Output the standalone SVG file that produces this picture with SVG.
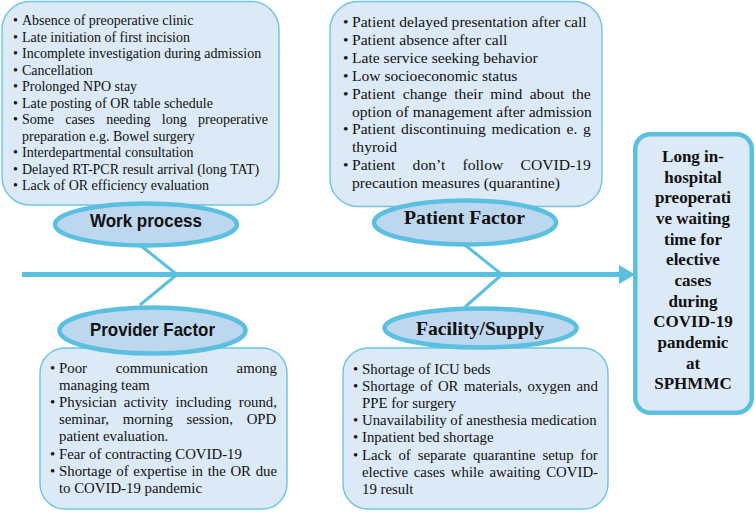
<svg xmlns="http://www.w3.org/2000/svg" width="755" height="512" viewBox="0 0 755 512">
<style>
.box{fill:#dce9f6;stroke:#6cc4e4;stroke-width:1.4}
.ell{fill:#bdd7ee;stroke:#5bbfe0;stroke-width:4.5}
.t{font-family:"Liberation Serif","Times New Roman",serif;fill:#111}
.s14{font-size:14px}
.s156{font-size:15.6px}
.s148{font-size:14.8px}
.hs{font-family:"Liberation Sans",Arial,sans-serif;font-weight:bold;font-size:18.5px;fill:#111;text-anchor:middle}
.hr{font-family:"Liberation Serif","Times New Roman",serif;font-weight:bold;font-size:19.7px;fill:#111;text-anchor:middle}
.res{font-family:"Liberation Serif","Times New Roman",serif;font-weight:bold;font-size:17px;fill:#111;text-anchor:middle}
.bone{stroke:#5bbfe0;stroke-width:3;fill:none}
.spine{stroke:#5bbfe0;stroke-width:5;fill:none}
</style>

<g id="connectors">
  <line class="spine" x1="22" y1="274.5" x2="622" y2="274.5"/>
  <polygon points="619,265 635,274.5 619,284" fill="#5bbfe0"/>
  <polyline class="bone" points="140,245 177,274.5 140,305"/>
  <polyline class="bone" points="465,245 502,274.5 465,307"/>
</g>

<g id="work-process">
  <rect class="box" x="2" y="1.5" width="277" height="203.5" rx="28"/>
  <g class="t s14">
    <text x="13" y="25">•</text><text x="22" y="25">Absence of preoperative clinic</text>
    <text x="13" y="41.5">•</text><text x="22" y="41.5">Late initiation of first incision</text>
    <text x="13" y="58">•</text><text x="22" y="58">Incomplete investigation during admission</text>
    <text x="13" y="74.5">•</text><text x="22" y="74.5">Cancellation</text>
    <text x="13" y="91">•</text><text x="22" y="91">Prolonged NPO stay</text>
    <text x="13" y="107.5">•</text><text x="22" y="107.5">Late posting of OR table schedule</text>
    <text x="13" y="124">•</text><text x="22" y="124" word-spacing="7.85">Some cases needing long preoperative</text>
    <text x="22" y="140.5">preparation e.g. Bowel surgery</text>
    <text x="13" y="157">•</text><text x="22" y="157">Interdepartmental consultation</text>
    <text x="13" y="173.5">•</text><text x="22" y="173.5">Delayed RT-PCR result arrival (long TAT)</text>
    <text x="13" y="190">•</text><text x="22" y="190">Lack of OR efficiency evaluation</text>
  </g>
  <ellipse class="ell" cx="146" cy="224.5" rx="91" ry="21"/>
  <text class="hs" x="146" y="227" textLength="112" lengthAdjust="spacingAndGlyphs">Work process</text>
</g>

<g id="patient-factor">
  <rect class="box" x="330" y="1.5" width="272" height="205" rx="28"/>
  <g class="t s156">
    <text x="343" y="27">•</text><text x="352" y="27">Patient delayed presentation after call</text>
    <text x="343" y="44.9">•</text><text x="352" y="44.9">Patient absence after call</text>
    <text x="343" y="62.8">•</text><text x="352" y="62.8">Late service seeking behavior</text>
    <text x="343" y="80.7">•</text><text x="352" y="80.7">Low socioeconomic status</text>
    <text x="343" y="98.6">•</text><text x="352" y="98.6" word-spacing="3.5">Patient change their mind about the</text>
    <text x="352" y="116.5">option of management after admission</text>
    <text x="343" y="134.4">•</text><text x="352" y="134.4" word-spacing="1.8">Patient discontinuing medication e. g</text>
    <text x="352" y="152.3">thyroid</text>
    <text x="343" y="170.2">•</text><text x="352" y="170.2" word-spacing="13.4">Patient don’t follow COVID-19</text>
    <text x="352" y="188.1">precaution measures (quarantine)</text>
  </g>
  <ellipse class="ell" cx="465" cy="222.5" rx="91" ry="22"/>
  <text class="hr" x="464.5" y="224">Patient Factor</text>
</g>

<g id="provider-factor">
  <rect class="box" x="40" y="348" width="247" height="161" rx="25"/>
  <ellipse class="ell" cx="152.5" cy="330.5" rx="93" ry="23"/>
  <text class="hs" x="152.5" y="336" textLength="125" lengthAdjust="spacingAndGlyphs">Provider Factor</text>
  <g class="t s148">
    <text x="50" y="373">•</text><text x="59" y="373" word-spacing="25.1">Poor communication among</text>
    <text x="59" y="390.1">managing team</text>
    <text x="50" y="407.2">•</text><text x="59" y="407.2" word-spacing="3.6">Physician activity including round,</text>
    <text x="59" y="424.3" word-spacing="10">seminar, morning session, OPD</text>
    <text x="59" y="441.4">patient evaluation.</text>
    <text x="50" y="458.5">•</text><text x="59" y="458.5">Fear of contracting COVID-19</text>
    <text x="50" y="475.6">•</text><text x="59" y="475.6" word-spacing="1">Shortage of expertise in the OR due</text>
    <text x="59" y="492.7">to COVID-19 pandemic</text>
  </g>
</g>

<g id="facility-supply">
  <rect class="box" x="343" y="348" width="265" height="161" rx="25"/>
  <ellipse class="ell" cx="480.5" cy="328" rx="96" ry="19.5"/>
  <text class="hr" x="480" y="335">Facility/Supply</text>
  <g class="t s148">
    <text x="353" y="374">•</text><text x="362" y="374">Shortage of ICU beds</text>
    <text x="353" y="391.1">•</text><text x="362" y="391.1" word-spacing="1.8">Shortage of OR materials, oxygen and</text>
    <text x="362" y="408.2">PPE for surgery</text>
    <text x="353" y="425.3">•</text><text x="362" y="425.3">Unavailability of anesthesia medication</text>
    <text x="353" y="442.4">•</text><text x="362" y="442.4">Inpatient bed shortage</text>
    <text x="353" y="459.5">•</text><text x="362" y="459.5" word-spacing="3.2">Lack of separate quarantine setup for</text>
    <text x="362" y="476.6" word-spacing="2.1">elective cases while awaiting COVID-</text>
    <text x="362" y="493.7">19 result</text>
  </g>
</g>

<g id="outcome">
  <rect x="635.25" y="134.25" width="116.5" height="278.5" rx="15" fill="#dce9f6" stroke="#5bbfe0" stroke-width="4.5"/>
  <g class="res">
    <text x="693" y="162">Long in-</text>
    <text x="693" y="182.65">hospital</text>
    <text x="693" y="203.3">preoperati</text>
    <text x="693" y="223.95">ve waiting</text>
    <text x="693" y="244.6">time for</text>
    <text x="693" y="265.25">elective</text>
    <text x="693" y="285.9">cases</text>
    <text x="693" y="306.55">during</text>
    <text x="693" y="327.2">COVID-19</text>
    <text x="693" y="347.85">pandemic</text>
    <text x="693" y="368.5">at</text>
    <text x="693" y="389.15">SPHMMC</text>
  </g>
</g>
</svg>
